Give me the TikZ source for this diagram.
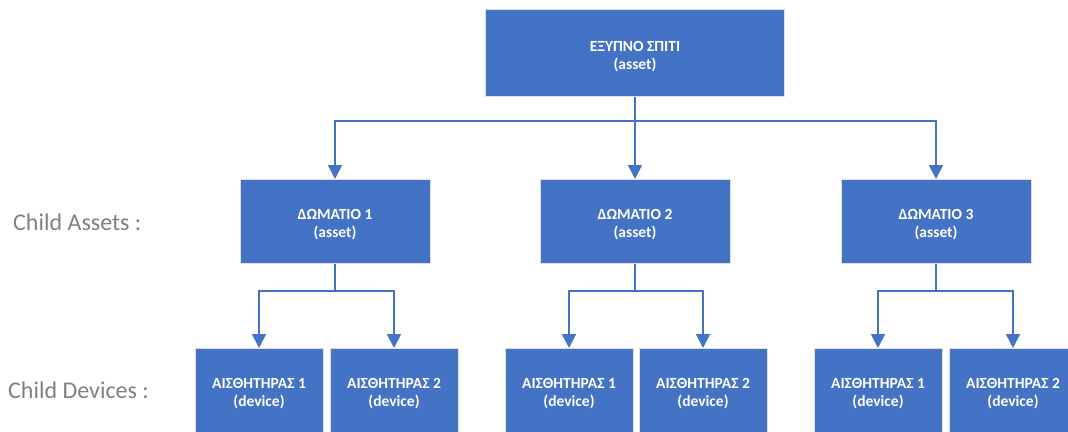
\documentclass[tikz,border=0pt]{standalone}
\usepackage{fontspec}
\setmainfont{Carlito}
\usetikzlibrary{arrows.meta}
\definecolor{boxblue}{HTML}{4472C4}
\definecolor{labelgray}{HTML}{808080}
% two-line box text; the tall strut on the first row sets it a little below centre
\newcommand{\boxtext}[2]{\begin{tabular}{@{}c@{}}\rule{0pt}{20pt}#1\\#2\end{tabular}}
\tikzset{
  unitbox/.style={rectangle, fill=boxblue, draw=white!75!gray, line width=1pt,
    text=white, font=\fontsize{15.5}{18}\selectfont\bfseries, align=center,
    inner sep=0pt, anchor=north},
  topbox/.style={unitbox, minimum width=299pt, minimum height=87pt},
  roombox/.style={unitbox, minimum width=190pt, minimum height=84pt},
  devbox/.style={unitbox, minimum width=128pt, minimum height=84pt},
  link/.style={draw=boxblue, line width=1.8pt},
  arrowlink/.style={link, -{Triangle[width=14pt,length=14pt]}},
  rowlabel/.style={text=labelgray, font=\fontsize{24}{28}\selectfont, anchor=west, inner sep=0pt}
}
\begin{document}
\begin{tikzpicture}[x=1pt,y=-1pt]
\useasboundingbox (0,0) rectangle (1068,431);
\clip (0,0) rectangle (1068,431);

% root asset
\node[topbox] (home) at (635,9) {\boxtext{ΕΞΥΠΝΟ ΣΠΙΤΙ}{(asset)}};

% child assets
\node[roombox] (r1) at (335,179) {\boxtext{ΔΩΜΑΤΙΟ 1}{(asset)}};
\node[roombox] (r2) at (635,179) {\boxtext{ΔΩΜΑΤΙΟ 2}{(asset)}};
\node[roombox] (r3) at (936,179) {\boxtext{ΔΩΜΑΤΙΟ 3}{(asset)}};

% child devices
\node[devbox] (d11) at (259,348) {\boxtext{ΑΙΣΘΗΤΗΡΑΣ 1}{(device)}};
\node[devbox] (d12) at (394,348) {\boxtext{ΑΙΣΘΗΤΗΡΑΣ 2}{(device)}};
\node[devbox] (d21) at (569,348) {\boxtext{ΑΙΣΘΗΤΗΡΑΣ 1}{(device)}};
\node[devbox] (d22) at (703,348) {\boxtext{ΑΙΣΘΗΤΗΡΑΣ 2}{(device)}};
\node[devbox] (d31) at (878,348) {\boxtext{ΑΙΣΘΗΤΗΡΑΣ 1}{(device)}};
\node[devbox] (d32) at (1013,348) {\boxtext{ΑΙΣΘΗΤΗΡΑΣ 2}{(device)}};

% row labels
\node[rowlabel] (la) at (13,222) {Child Assets :};
\node[rowlabel] (ld) at (8,390) {Child Devices :};

% branch point below the root
\coordinate (hb) at (home.south |- 0,121);

% root to rooms
\draw[link] (home.south) -- (hb);
\draw[arrowlink] (hb) -| (r1.north);
\draw[arrowlink] (hb) -- (r2.north);
\draw[arrowlink] (hb) -| (r3.north);

% rooms to sensors
\foreach \r/\a/\b in {r1/d11/d12, r2/d21/d22, r3/d31/d32}{
  \draw[link] (\r.south) -- (\r.south |- 0,291);
  \draw[arrowlink] (\r.south |- 0,291) -| (\a.north);
  \draw[arrowlink] (\r.south |- 0,291) -| (\b.north);
}
\end{tikzpicture}
\end{document}
